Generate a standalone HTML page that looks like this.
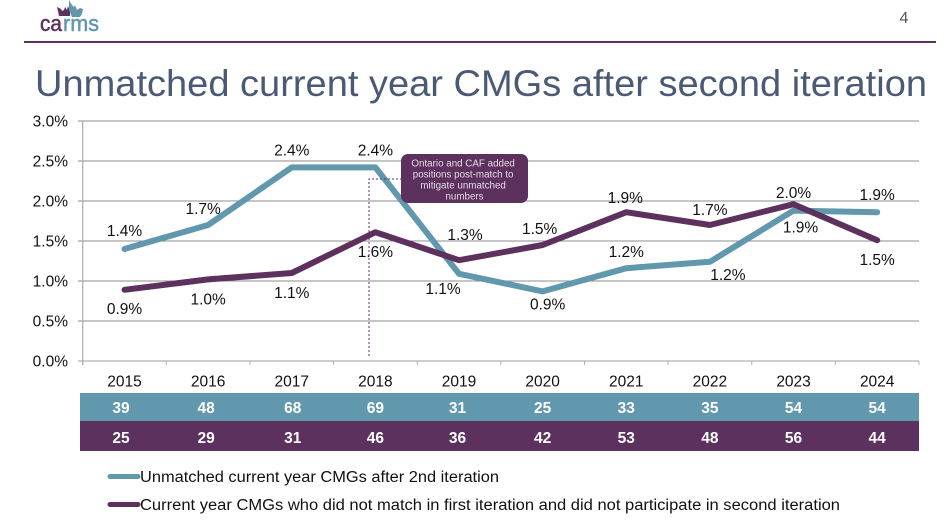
<!DOCTYPE html>
<html lang="en">
<head>
<meta charset="utf-8">
<title>Unmatched current year CMGs after second iteration</title>
<style>
html,body{margin:0;padding:0;background:#fff;width:951px;height:531px;overflow:hidden}
svg{display:block;font-family:"Liberation Sans",sans-serif}
</style>
</head>
<body>
<svg id="chart" width="951" height="531" viewBox="0 0 951 531" xmlns="http://www.w3.org/2000/svg">
  <g>
    <path d="M57 7l4 2 1 2 2-1 1-3 2 3 1-4 2 5 0 5-3 0-8 0-1-5z" fill="#5c315e"/>
    <path d="M69 0l3 5 2 2 1-2 2 5 3-2 3 1-1 5-2 3-8 0-3-7z" fill="#6198ae"/>
    <text x="40" y="31" font-size="22" fill="#5c315e" stroke="#5c315e" stroke-width="0.5" textLength="22" lengthAdjust="spacingAndGlyphs">ca</text>
    <text x="63" y="31" font-size="22" fill="#6198ae" stroke="#6198ae" stroke-width="0.5" textLength="36" lengthAdjust="spacingAndGlyphs">rms</text>
  </g>
  <text x="904" y="23" font-size="16" fill="#555" text-anchor="middle">4</text>
  <rect x="24" y="41" width="912" height="2" fill="#5c315e"/>
  <text x="35" y="96" font-size="37" fill="#4a5a75" textLength="892" lengthAdjust="spacingAndGlyphs">Unmatched current year CMGs after second iteration</text>
  <g id="plot"></g>
  <g>
    <path d="M402 179H369V358" fill="none" stroke="#5c315e" stroke-width="1" stroke-dasharray="2 2"/>
    <rect x="401" y="154" width="127" height="49" rx="7" fill="#5c315e"/>
    <text font-size="9.8" fill="#e4dbe6" text-anchor="middle">
      <tspan x="464.5" y="166.5">Ontario and CAF added</tspan>
      <tspan x="464.5" y="177.5">positions post-match to</tspan>
      <tspan x="464.5" y="188.5">mitigate unmatched</tspan>
      <tspan x="464.5" y="199.5">numbers</tspan>
    </text>
  </g>
  <g>
    <g>
      <line x1="110" y1="476.5" x2="138" y2="476.5" stroke="#6198ae" stroke-width="5" stroke-linecap="round"/>
      <text x="140" y="482" font-size="15.5" fill="#111" textLength="359" lengthAdjust="spacingAndGlyphs">Unmatched current year CMGs after 2nd iteration</text>
    </g>
    <g>
      <line x1="110" y1="504.5" x2="138" y2="504.5" stroke="#5c315e" stroke-width="5" stroke-linecap="round"/>
      <text x="140" y="510" font-size="15.5" fill="#111" textLength="700" lengthAdjust="spacingAndGlyphs">Current year CMGs who did not match in first iteration and did not participate in second iteration</text>
    </g>
  </g>
</svg>
<script>
const years = ['2015','2016','2017','2018','2019','2020','2021','2022','2023','2024'];
const yTicks = [0, 0.5, 1, 1.5, 2, 2.5, 3];
const unmatchedValues = [1.4, 1.7, 2.42, 2.42, 1.09, 0.87, 1.16, 1.24, 1.88, 1.86];
const notParticipatedValues = [0.89, 1.02, 1.1, 1.61, 1.26, 1.45, 1.86, 1.7, 1.96, 1.51];
const unmatchedLabels = ['1.4%','1.7%','2.4%','2.4%','1.1%','0.9%','1.2%','1.2%','1.9%','1.9%'];
const notParticipatedLabels = ['0.9%','1.0%','1.1%','1.6%','1.3%','1.5%','1.9%','1.7%','2.0%','1.5%'];
const unmatchedCounts = ['39','48','68','69','31','25','33','35','54','54'];
const notParticipatedCounts = ['25','29','31','46','36','42','53','48','56','44'];

const NS = 'http://www.w3.org/2000/svg';
const plot = document.getElementById('plot');
const left = 82.7, right = 919, top0 = 121, bottom = 361, yMax = 3;
const band = (right - left) / years.length;
function xScale(i) { return left + band * (i + 0.5); }
function yScale(v) { return bottom - (v / yMax) * (bottom - top0); }
function svgEl(tag, attrs, parent) {
  const el = document.createElementNS(NS, tag);
  for (const k in attrs) el.setAttribute(k, attrs[k]);
  (parent || plot).appendChild(el);
  return el;
}

// Gridlines and y-axis labels
yTicks.forEach(function (t) {
  const y = yScale(t);
  const grid = svgEl('line', { x1: 78, x2: right, y1: y, y2: y, stroke: t === 0 ? '#b0b0b0' : '#8c8c8c', 'stroke-width': t === 0 ? 1.3 : 1 });
  
  
  const lab = svgEl('text', { x: 68, y: y + 5.5, 'font-size': 15.5, fill: '#111', 'text-anchor': 'end' });
  
  
  lab.textContent = t.toFixed(1) + '%';
});
const yAxis = svgEl('line', { x1: left, x2: left, y1: top0, y2: bottom + 4, stroke: '#b0b0b0', 'stroke-width': 1.3 });



// X axis ticks and labels
for (let i = 0; i <= years.length; i++) {
  const tx = left + band * i;
  const tick = svgEl('line', { x1: tx, x2: tx, y1: bottom, y2: bottom + 4, stroke: '#b0b0b0', 'stroke-width': 1 });
  
  
}
years.forEach(function (yr, i) {
  const lab = svgEl('text', { x: xScale(i), y: 386.5, 'font-size': 15.5, fill: '#111', 'text-anchor': 'middle' });
  
  
  lab.textContent = yr;
});

// Series lines
function linePoints(values) {
  return values.map(function (v, i) { return xScale(i) + ',' + yScale(v); }).join(' ');
}
const unmatchedLine = svgEl('polyline', { points: linePoints(unmatchedValues), fill: 'none', stroke: '#6198ae', 'stroke-width': 6, 'stroke-linecap': 'round', 'stroke-linejoin': 'round' });


const notParticipatedLine = svgEl('polyline', { points: linePoints(notParticipatedValues), fill: 'none', stroke: '#5c315e', 'stroke-width': 6, 'stroke-linecap': 'round', 'stroke-linejoin': 'round' });



// Data labels, nudged relative to their points
const unmatchedNudgeX = [0, -5, 0, 0, -16, 5, 0, 18, 7, 0];
const unmatchedNudgeY = [-13, -11, -12, -12, 20, 18, -11, 18, 22, -12];
const notParticipatedNudgeX = [0, 0, 0, 0, 6, -3, -1, 0, 0, 0];
const notParticipatedNudgeY = [24, 25, 25, 25, -20, -11, -9, -10, -6, 25];
unmatchedLabels.forEach(function (txt, i) {
  const lab = svgEl('text', { x: xScale(i) + unmatchedNudgeX[i], y: yScale(unmatchedValues[i]) + unmatchedNudgeY[i], 'font-size': 15.5, fill: '#111', 'text-anchor': 'middle' });
  
  
  lab.textContent = txt;
});
notParticipatedLabels.forEach(function (txt, i) {
  const lab = svgEl('text', { x: xScale(i) + notParticipatedNudgeX[i], y: yScale(notParticipatedValues[i]) + notParticipatedNudgeY[i], 'font-size': 15.5, fill: '#111', 'text-anchor': 'middle' });
  
  
  lab.textContent = txt;
});

// Count table
const row1 = svgEl('rect', { x: 80, y: 393, width: 839, height: 28, fill: '#6198ae' });


const row2 = svgEl('rect', { x: 80, y: 421, width: 839, height: 30, fill: '#5c315e' });


const cellNudgeX = [-3.5, -2, 1, 0, -1.5, 0, 0, 0, 0, 0];
function cellX(i) { return xScale(i) + cellNudgeX[i]; }
unmatchedCounts.forEach(function (c, i) {
  const t = svgEl('text', { x: cellX(i), y: 413, 'font-size': 15.5, 'font-weight': 700, fill: '#fff', 'text-anchor': 'middle' });
  
  
  t.textContent = c;
});
notParticipatedCounts.forEach(function (c, i) {
  const t = svgEl('text', { x: cellX(i), y: 443, 'font-size': 15.5, 'font-weight': 700, fill: '#fff', 'text-anchor': 'middle' });
  
  
  t.textContent = c;
});
</script>
</body>
</html>
